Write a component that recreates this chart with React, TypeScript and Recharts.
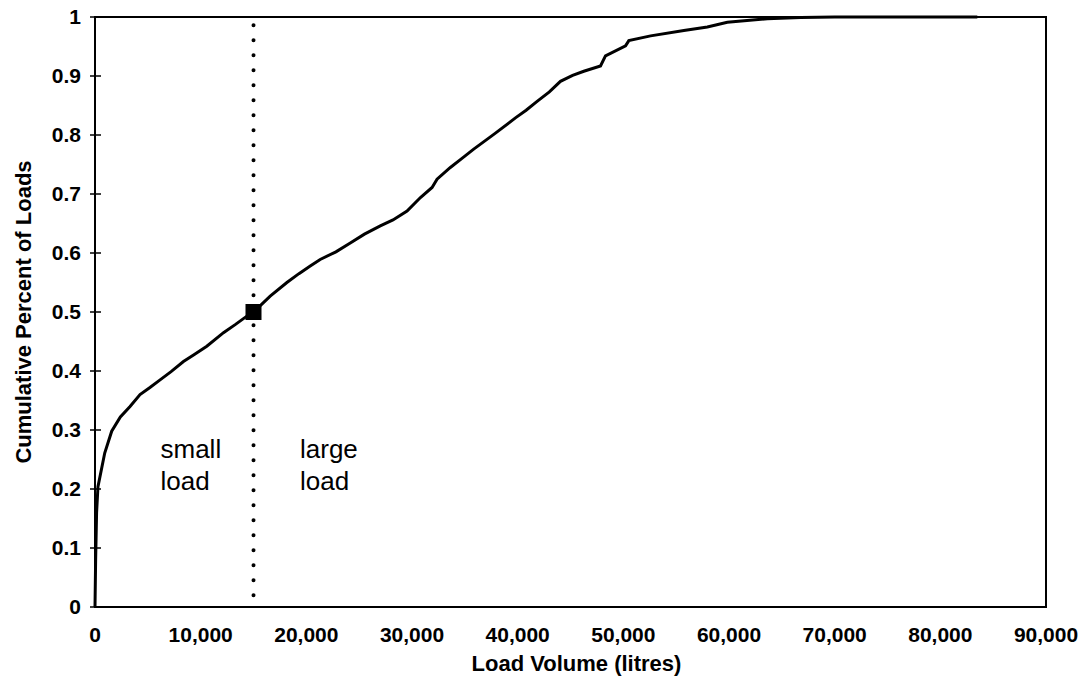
import {
  Label,
  Line,
  LineChart,
  ReferenceArea,
  ReferenceDot,
  ReferenceLine,
  XAxis,
  YAxis,
} from "recharts";

// load volume (litres) and cumulative share of loads
const volumes = [
  0, 60, 150, 280, 920, 1580, 2400, 3316, 4260, 5200, 6160, 7200, 8370, 9400,
  10580, 12160, 13300, 14370, 15000, 15940, 16580, 18160, 19300, 20370, 21310,
  22800, 24160, 25500, 27000, 28200, 29530, 30800, 31900, 32370, 33630, 34700,
  35840, 37740, 39790, 40800, 41840, 43000, 44050, 45200, 46260, 47840, 48310,
  50210, 50520, 52580, 55730, 57950, 59840, 63630, 66790, 70000, 83500,
];
const cumShare = [
  0, 0.08, 0.16, 0.204, 0.261, 0.298, 0.322, 0.34, 0.36, 0.372, 0.385, 0.399,
  0.416, 0.428, 0.442, 0.465, 0.479, 0.493, 0.5, 0.516, 0.527, 0.55, 0.565,
  0.578, 0.589, 0.602, 0.617, 0.632, 0.646, 0.656, 0.671, 0.694, 0.711, 0.725,
  0.745, 0.76, 0.776, 0.801, 0.829, 0.842, 0.857, 0.873, 0.891, 0.901, 0.908,
  0.917, 0.934, 0.951, 0.96, 0.968, 0.977, 0.983, 0.991, 0.997, 0.999, 1, 1,
];

const xTicks = [0, 10000, 20000, 30000, 40000, 50000, 60000, 70000, 80000, 90000];
const yTicks = [0, 0.1, 0.2, 0.3, 0.4, 0.5, 0.6, 0.7, 0.8, 0.9, 1];

const median = { volume: 15000, share: 0.5 };
const notes = [
  { volume: 6200, share: 0.253, lines: ["small", "load"] },
  { volume: 19400, share: 0.253, lines: ["large", "load"] },
];

const data = volumes.map((v, i) => ({ volume: v, share: cumShare[i] }));

const FONT = "'Liberation Sans', Arial, sans-serif";

const XTick = ({ x, y, payload }: any) => (
  <text
    x={x}
    y={y + 35}
    textAnchor="middle"
    fontFamily={FONT}
    fontSize={21}
    fontWeight="bold"
    fill="#000"
  >
    {Number(payload.value).toLocaleString("en-US")}
  </text>
);

const YTick = ({ x, y, payload }: any) => (
  <g>
    <line x1={x - 5} x2={x + 6} y1={y} y2={y} stroke="#000" strokeWidth={1.5} />
    <text
      x={x - 14}
      y={y + 7}
      textAnchor="end"
      fontFamily={FONT}
      fontSize={21}
      fontWeight="bold"
      fill="#000"
    >
      {String(payload.value)}
    </text>
  </g>
);

const Square = ({ cx, cy }: any) => (
  <rect x={cx - 8} y={cy - 8} width={16} height={16} fill="#000" />
);

const Note = (lines: string[]) => ({ cx, cy }: any) => (
  <text x={cx} y={cy} fontFamily={FONT} fontSize={26} fill="#000">
    {lines.map((t, i) => (
      <tspan key={t + i} x={cx} dy={i === 0 ? 0 : 32}>
        {t}
      </tspan>
    ))}
  </text>
);

export default function App() {
  return (
    <div style={{ position: "absolute", left: 0, top: 0, background: "#fff" }}>
      <LineChart
        width={1084}
        height={693}
        data={data}
        margin={{ top: 17, right: 38, left: 0, bottom: 0 }}
      >
        <XAxis
          dataKey="volume"
          type="number"
          domain={[0, 90000]}
          ticks={xTicks}
          tick={<XTick />}
          tickSize={0}
          tickMargin={0}
          height={86}
          axisLine={{ stroke: "#000", strokeWidth: 2 }}
          interval={0}
        >
          <Label
            content={({ viewBox }: any) => (
              <text
                x={viewBox.x + viewBox.width / 2 + 6}
                y={671}
                textAnchor="middle"
                fontFamily={FONT}
                fontSize={22}
                fontWeight="bold"
                fill="#000"
              >
                Load Volume (litres)
              </text>
            )}
          />
        </XAxis>
        <YAxis
          type="number"
          domain={[0, 1]}
          ticks={yTicks}
          tick={<YTick />}
          tickSize={0}
          tickMargin={0}
          width={95}
          axisLine={{ stroke: "#000", strokeWidth: 2 }}
          interval={0}
        >
          <Label
            content={({ viewBox }: any) => {
              const cy = viewBox.y + viewBox.height / 2;
              return (
                <text
                  x={31}
                  y={cy}
                  transform={`rotate(-90, 31, ${cy})`}
                  textAnchor="middle"
                  fontFamily={FONT}
                  fontSize={22}
                  fontWeight="bold"
                  fill="#000"
                >
                  Cumulative Percent of Loads
                </text>
              );
            }}
          />
        </YAxis>
        <ReferenceArea
          x1={0}
          x2={90000}
          y1={0}
          y2={1}
          fill="none"
          stroke="#000"
          strokeWidth={2}
        />
        <ReferenceLine
          segment={[
            { x: median.volume, y: 0.02 },
            { x: median.volume, y: 1 },
          ]}
          stroke="#000"
          strokeWidth={4}
          strokeDasharray="0 15"
          strokeLinecap="round"
        />
        <Line
          type="linear"
          dataKey="share"
          stroke="#000"
          strokeWidth={3}
          dot={false}
          isAnimationActive={false}
        />
        <ReferenceDot
          x={median.volume}
          y={median.share}
          shape={<Square />}
        />
        {notes.map((n) => (
          <ReferenceDot
            key={n.lines[0]}
            x={n.volume}
            y={n.share}
            shape={Note(n.lines)}
          />
        ))}
      </LineChart>
    </div>
  );
}
